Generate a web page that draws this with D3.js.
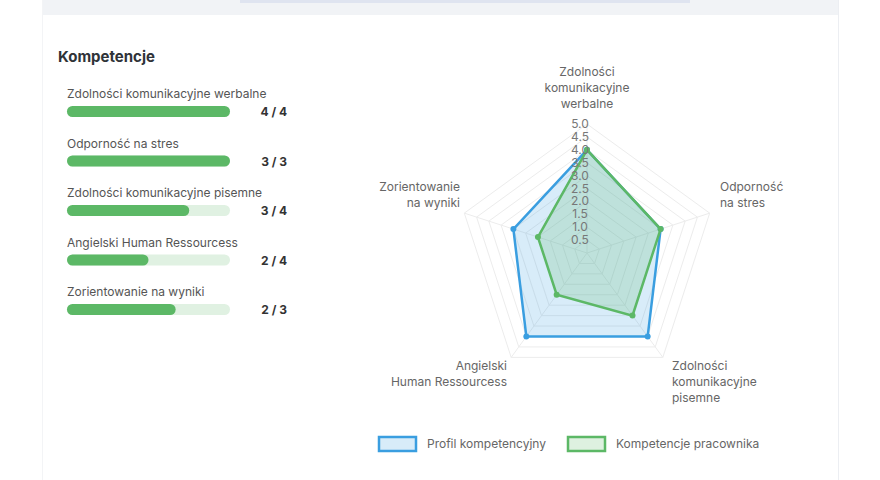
<!DOCTYPE html>
<html><head><meta charset="utf-8">
<script src="https://cdn.jsdelivr.net/npm/d3@7"></script>
<style>body{margin:0;background:#fff;font-family:Inter,"Noto Sans",sans-serif}</style>
</head><body><svg id="c" width="880" height="480"></svg>
<script>
var skills = ["Zdolności komunikacyjne werbalne", "Odporność na stres", "Zdolności komunikacyjne pisemne", "Angielski Human Ressourcess", "Zorientowanie na wyniki"]
var axisLabels = [["Zdolności", "komunikacyjne", "werbalne"], ["Odporność", "na stres"], ["Zdolności", "komunikacyjne", "pisemne"], ["Angielski", "Human Ressourcess"], ["Zorientowanie", "na wyniki"]]
var profile = [4, 3, 4, 4, 3]
var employee = [4, 3, 3, 2, 2]
var rTicks = [0.5, 1, 1.5, 2, 2.5, 3, 3.5, 4, 4.5, 5]
var seriesNames = ["Profil kompetencyjny", "Kompetencje pracownika"]

var svg = d3.select("#c")
// page frame
svg.append("rect").attr("width", 880).attr("height", 480).attr("fill", "#fff")
svg.append("rect").attr("x", 42).attr("width", 796).attr("height", 15).attr("fill", "#f1f3f6")
svg.append("rect").attr("x", 240).attr("width", 450).attr("height", 3).attr("fill", "#dfe4f0")
svg.append("line").attr("x1", 838.5).attr("x2", 838.5).attr("y1", 0).attr("y2", 480).attr("stroke", "#eceef2")
svg.append("line").attr("x1", 42.5).attr("x2", 42.5).attr("y1", 0).attr("y2", 480).attr("stroke", "#f3f4f6")

svg.append("text").attr("x", 58).attr("y", 62).text("Kompetencje")
    .attr("font-size", 15).attr("font-weight", 700).attr("fill", "#2f3338")

// progress bars
var bx = d3.scaleLinear().domain([0, 1]).range([67, 230])
skills.forEach(function(s, i) {
    var y = 100 + i * 49.5
    svg.append("text").attr("x", 67).attr("y", y - 2).text(s).attr("font-size", 12).attr("fill", "#555")
    svg.append("rect").attr("x", bx(0)).attr("y", y + 6).attr("width", bx(1) - bx(0)).attr("height", 11)
        .attr("rx", 5.5).attr("fill", "#e0f1e2")
    svg.append("rect").attr("x", bx(0)).attr("y", y + 6).attr("width", bx(employee[i] / profile[i]) - bx(0)).attr("height", 11)
        .attr("rx", 5.5).attr("fill", "#5cb866")
    svg.append("text").attr("x", 287).attr("y", y + 16).attr("text-anchor", "end")
        .text(employee[i] + " / " + profile[i]).attr("font-size", 12).attr("font-weight", 700).attr("fill", "#333")
})

// radar
var cx = 587, cy = 253
var r = d3.scaleLinear().domain([0, 5]).range([0, 129])
var ang = function(i) { return i * 2 * Math.PI / 5 }
var pt = function(v, i) { return [cx + r(v) * Math.sin(ang(i)), cy - r(v) * Math.cos(ang(i))] }
var g = svg.append("g")
rTicks.forEach(function(t) {
    g.append("polygon").attr("points", d3.range(5).map(function(i) { return pt(t, i).join(",") }).join(" "))
        .attr("fill", "none").attr("stroke", "#ececec")
})
d3.range(5).forEach(function(i) {
    var p = pt(5, i)
    g.append("line").attr("x1", cx).attr("y1", cy).attr("x2", p[0]).attr("y2", p[1]).attr("stroke", "#ececec")
})
var line = d3.line().curve(d3.curveLinearClosed)
var series = [[profile, "#3a9ee0", "rgba(58,158,224,0.2)"], [employee, "#5cb866", "rgba(92,184,102,0.2)"]]
series.forEach(function(s) {
    var pts = s[0].map(pt)
    g.append("path").attr("d", line(pts)).attr("fill", s[2]).attr("stroke", s[1]).attr("stroke-width", 2.5)
    g.selectAll(null).data(pts).enter().append("circle").attr("cx", function(d) { return d[0] })
        .attr("cy", function(d) { return d[1] }).attr("r", 3).attr("fill", s[1])
})
rTicks.forEach(function(t) {
    g.append("text").attr("x", cx - 7).attr("y", cy - r(t) + 4).attr("text-anchor", "middle")
        .text(t.toFixed(1)).attr("font-size", 12).attr("fill", "#777")
})
var lpos = [[cx, 76, "middle"], [720, 191, "start"], [672, 370, "start"], [507, 370, "end"], [460, 191, "end"]]
axisLabels.forEach(function(l, i) {
    var t = svg.append("text").attr("text-anchor", lpos[i][2]).attr("font-size", 12).attr("fill", "#666")
    l.forEach(function(s, j) { t.append("tspan").attr("x", lpos[i][0]).attr("y", lpos[i][1] + j * 16).text(s) })
})

// legend
var lx = [379, 568]
seriesNames.forEach(function(n, i) {
    svg.append("rect").attr("x", lx[i]).attr("y", 437).attr("width", 37).attr("height", 14)
        .attr("fill", series[i][2]).attr("stroke", series[i][1]).attr("stroke-width", 2.5)
    svg.append("text").attr("x", lx[i] + 48).attr("y", 448).text(n).attr("font-size", 12).attr("fill", "#666")
})
</script></body></html>
